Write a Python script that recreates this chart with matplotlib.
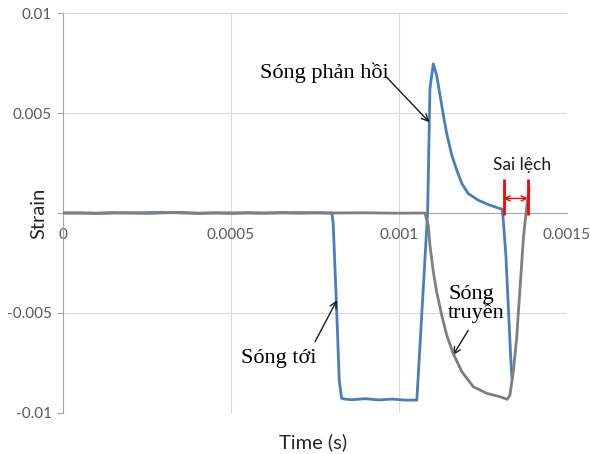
import matplotlib.pyplot as plt

# incident + reflected wave (blue)
blue_t = [0, 0.00005, 0.0001, 0.00015, 0.0002, 0.00025, 0.0003, 0.00035, 0.0004,
          0.00045, 0.0005, 0.00055, 0.0006, 0.00065, 0.0007, 0.00075, 0.000801,
          0.000805, 0.000815, 0.000823, 0.00083, 0.00084, 0.00086, 0.0009, 0.00094,
          0.00098, 0.00102, 0.001054, 0.001086, 0.001093, 0.001103, 0.001113,
          0.001123, 0.001133, 0.001143, 0.001158, 0.001173, 0.001188, 0.001207,
          0.001237, 0.001267, 0.001296, 0.001308, 0.001311, 0.001319, 0.001326,
          0.001333, 0.001337]
blue_s = [0, 0.00001, -0.00001, 0.00002, 0, -0.00002, 0.00001, 0.00003, -0.00001,
          0.00001, -0.00002, 0.00001, 0, 0.00002, -0.00001, 0.00001, 0,
          -0.00052, -0.0047, -0.00836, -0.00928, -0.00932, -0.00935, -0.0093, -0.00936,
          -0.00932, -0.00937, -0.00937, 0.0, 0.00624, 0.00747, 0.00689,
          0.00589, 0.00489, 0.00397, 0.00289, 0.00214, 0.00147, 0.00097,
          0.00064, 0.00042, 0.00025, 0.00019, -0.0003, -0.00212, -0.00462,
          -0.00712, -0.00827]

# transmitted wave (gray)
gray_t = [0, 0.0001, 0.0002, 0.0003, 0.0004, 0.0005, 0.0006, 0.0007, 0.0008,
          0.0009, 0.001, 0.001078, 0.001088, 0.001093, 0.001103, 0.001113,
          0.001128, 0.001143, 0.001162, 0.001188, 0.001222, 0.001262, 0.001301,
          0.001323, 0.001331, 0.001341, 0.001351, 0.001361, 0.001371, 0.001379,
          0.001388]
gray_s = [0, -0.00002, 0.00001, 0.00003, -0.00002, 0.00001, -0.00001, 0.00002, 0,
          0.00001, -0.00001, 0.0, -0.00062, -0.00162, -0.00295, -0.00395,
          -0.00512, -0.00612, -0.00703, -0.00795, -0.0087, -0.00903, -0.0092,
          -0.00933, -0.00912, -0.00795, -0.00628, -0.00378, -0.00128, 0.0,
          0.00122]

x_ticks = [0, 0.0005, 0.001, 0.0015]
x_labels = ['0', '0.0005', '0.001', '0.0015']
y_ticks = [-0.01, -0.005, 0, 0.005, 0.01]
y_labels = ['-0.01', '-0.005', '', '0.005', '0.01']

# markers for the time difference
gap_start = 0.001312
gap_end = 0.001384

fig = plt.figure(figsize=(5.9, 4.54), dpi=100)
ax = fig.add_axes([0.1063, 0.091, 0.8542, 0.8797])

tick_font = 'Lato'
serif = 'Liberation Serif'

ax.set_xlim(0, 0.0015)
ax.set_ylim(-0.01, 0.01)

for yv in y_ticks:
    ax.axhline(yv, color='#d9d9d9', lw=0.8, zorder=0)
for xv in x_ticks[1:]:
    ax.axvline(xv, color='#d9d9d9', lw=0.8, zorder=0)

ax.plot(blue_t, blue_s, color='#4a7ebb', lw=2.0, zorder=3,
        solid_joinstyle='round', solid_capstyle='round')
ax.plot(gray_t, gray_s, color='#7f7f7f', lw=2.0, zorder=4,
        solid_joinstyle='round', solid_capstyle='round')

for sp in ['top', 'right']:
    ax.spines[sp].set_visible(False)
ax.spines['bottom'].set_position(('data', 0))
ax.spines['bottom'].set_color('#a6a6a6')
ax.spines['left'].set_color('#a6a6a6')

ax.set_xticks(x_ticks)
ax.set_xticklabels(x_labels, fontsize=11, color='#595959', family=tick_font)
ax.tick_params(axis='x', length=0, pad=11)
ax.set_yticks(y_ticks)
ax.set_yticklabels(y_labels, fontsize=11, color='#595959', family=tick_font)
ax.tick_params(axis='y', length=4, color='#a6a6a6', pad=4)

fig.text(0.066, 0.531, 'Strain', rotation=90, ha='center', va='center',
         fontsize=14.5, family=tick_font, color='#262626')
fig.text(0.531, 0.027, 'Time (s)', ha='center', va='center',
         fontsize=14.5, family=tick_font, color='#262626')

arrow = dict(arrowstyle='->', color='#1a1a1a', lw=1.0, shrinkA=0, shrinkB=0,
             mutation_scale=12)
ax.text(0.000779, 0.00703, 'Sóng phản hồi', fontsize=16, family=serif,
        ha='center', va='center')
ax.annotate('', xy=(0.001091, 0.00455), xytext=(0.000964, 0.0068),
            arrowprops=arrow)

ax.text(0.000644, -0.00727, 'Sóng tới', fontsize=16, family=serif,
        ha='center', va='center')
ax.annotate('', xy=(0.000816, -0.00437), xytext=(0.000751, -0.00645),
            arrowprops=arrow)

ax.text(0.001147, -0.00454, 'Sóng\ntruyền', fontsize=16, family=serif,
        ha='left', va='center', linespacing=0.9)
ax.annotate('', xy=(0.001162, -0.00712), xytext=(0.001207, -0.00587),
            arrowprops=arrow)

ax.text(0.001367, 0.00239, 'Sai lệch', fontsize=12.5, family=tick_font,
        ha='center', va='center', color='#1a1a1a')
for xv in [gap_start, gap_end]:
    ax.plot([xv, xv], [-0.00012, 0.00168], color='#ff0000', lw=2.0, zorder=5,
            solid_capstyle='butt')
ax.annotate('', xy=(gap_end, 0.00073), xytext=(gap_start, 0.00073),
            arrowprops=dict(arrowstyle='<->', color='#ff0000', lw=1.0,
                            shrinkA=0, shrinkB=0, mutation_scale=9))

fig.savefig('out.png', dpi=100)
